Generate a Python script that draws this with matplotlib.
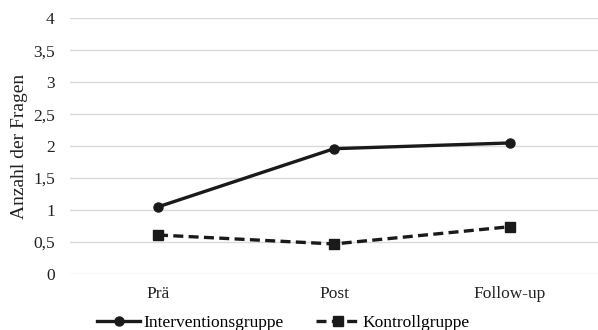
import matplotlib
matplotlib.use('Agg')
import matplotlib.pyplot as plt

plt.rcParams['font.family'] = ['Liberation Serif', 'DejaVu Serif']

# Daten
ZEITPUNKTE = ["Prä", "Post", "Follow-up"]
INTERVENTION = [1.05, 1.96, 2.05]
KONTROLLE = [0.61, 0.47, 0.74]
Y_TICKS = [0, 0.5, 1, 1.5, 2, 2.5, 3, 3.5, 4]
Y_LABELS = ["0", "0,5", "1", "1,5", "2", "2,5", "3", "3,5", "4"]

fig = plt.figure(figsize=(5.98, 3.30), dpi=100)
ax = fig.add_axes([70 / 598, 1 - 274 / 330, 528 / 598, (274 - 18.3) / 330])

x = list(range(len(ZEITPUNKTE)))
ax.plot(x, INTERVENTION, color='#1a1a1a', linewidth=2.4, marker='o',
        markersize=6.5, label='Interventionsgruppe')
ax.plot(x, KONTROLLE, color='#1a1a1a', linewidth=2.4, linestyle=(0, (3, 1.6)),
        marker='s', markersize=6.5, label='Kontrollgruppe')

ax.set_xlim(-0.5, 2.5)
ax.set_ylim(0, 4)
ax.set_xticks(x)
ax.set_xticklabels(ZEITPUNKTE, fontsize=12.5)
ax.set_yticks(Y_TICKS)
ax.set_yticklabels(Y_LABELS, fontsize=12.5)
ax.tick_params(length=0, colors='#222222')
ax.tick_params(axis='x', pad=9)
ax.tick_params(axis='y', pad=11)
ax.grid(axis='y', color='#d9d9d9', linewidth=1)
ax.set_axisbelow(True)
for s in ax.spines.values():
    s.set_visible(False)

ax.set_ylabel("Anzahl der Fragen", fontsize=14, color='#222222')
ax.yaxis.set_label_coords(-0.08, 0.5)

ax.legend(loc='center left', bbox_to_anchor=(27 / 528, -49 / 255.7), ncol=2,
          frameon=False, fontsize=12.5, handlelength=2.5, handletextpad=0.15,
          columnspacing=1.9, borderaxespad=0, borderpad=0)

fig.savefig('out.png', dpi=100)
